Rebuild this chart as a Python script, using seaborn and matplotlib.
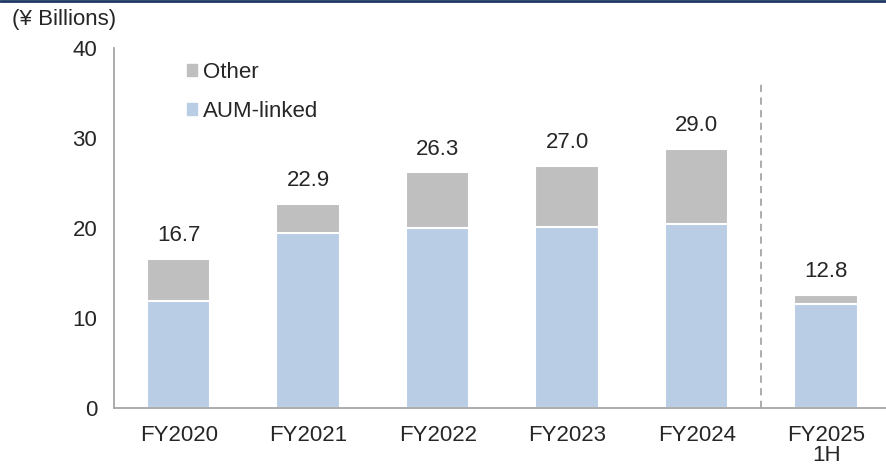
import matplotlib.pyplot as plt
import matplotlib.lines as mlines
import matplotlib.patches as mpatches
import pandas as pd
import seaborn as sns

# Data (¥ billions)
years = ['FY2020', 'FY2021', 'FY2022', 'FY2023', 'FY2024', 'FY2025\n1H']
aum_linked = [11.9, 19.4, 20.0, 20.1, 20.4, 11.6]
other = [4.7, 3.3, 6.2, 6.8, 8.4, 1.0]
total_labels = ['16.7', '22.9', '26.3', '27.0', '29.0', '12.8']

df = pd.DataFrame({'year': years, 'aum': aum_linked, 'other': other})
df['total'] = df['aum'] + df['other']

sns.set_style('white')
plt.rcParams['font.family'] = ['Liberation Sans', 'DejaVu Sans']

c_aum = '#B9CDE5'
c_other = '#BFBFBF'
c_axis = '#A6A6A6'
fs = 16

fig = plt.figure(figsize=(8.87, 4.67), dpi=100)
ax = fig.add_axes([0.1285, 0.1263, 0.8715, 0.7709])

# stacked bars: full height in grey, AUM-linked part in blue over it
sns.barplot(data=df, x='year', y='total', color=c_other, width=0.49,
            edgecolor='white', linewidth=1.5, saturation=1, ax=ax)
sns.barplot(data=df, x='year', y='aum', color=c_aum, width=0.49,
            edgecolor='white', linewidth=1.5, saturation=1, ax=ax)

for i, (t, lab) in enumerate(zip(df['total'], total_labels)):
    ax.annotate(lab, (i, t), xytext=(0, 9), textcoords='offset points',
                ha='center', va='bottom', fontsize=fs)

# dashed divider before the half-year bar
ax.plot([4.5, 4.5], [0, 36], ls=(0, (4, 3)), color=c_axis, lw=1.3)

ax.set_ylim(0, 40)
ax.set_xlim(-0.5, 5.47)
ax.set_yticks([0, 10, 20, 30, 40])
ax.set_xticks(range(len(years)))
ax.set_xticklabels(years)
for lbl in ax.get_xticklabels():
    lbl.set_linespacing(0.95)
ax.set_xticks([i + 0.5 for i in range(-1, 5)], minor=True)
ax.tick_params(axis='x', which='major', length=0, pad=12, labelsize=fs)
ax.tick_params(axis='x', which='minor', length=6, color=c_axis, width=1.3, direction='out')
ax.tick_params(axis='y', length=6, color=c_axis, width=1.3, direction='out', labelsize=fs, pad=6)
ax.set_xlabel('')
ax.set_ylabel('')

for s in ['top', 'right']:
    ax.spines[s].set_visible(False)
for s in ['left', 'bottom']:
    ax.spines[s].set_color(c_axis)
    ax.spines[s].set_linewidth(1.3)

handles = [mpatches.Patch(color=c_other, label='Other'),
           mpatches.Patch(color=c_aum, label='AUM-linked')]
ax.legend(handles=handles, loc='upper left', bbox_to_anchor=(0.068, 1.017),
          frameon=False, fontsize=fs, handlelength=0.45, handleheight=0.45,
          handletextpad=0.3, labelspacing=0.82)

fig.text(0.013, 0.958, '(¥ Billions)', fontsize=fs, ha='left', va='center')
fig.add_artist(mlines.Line2D([0, 1], [0.998, 0.998], color='#1F3864', lw=2.0,
                             transform=fig.transFigure))

fig.savefig('out.png', dpi=100)
